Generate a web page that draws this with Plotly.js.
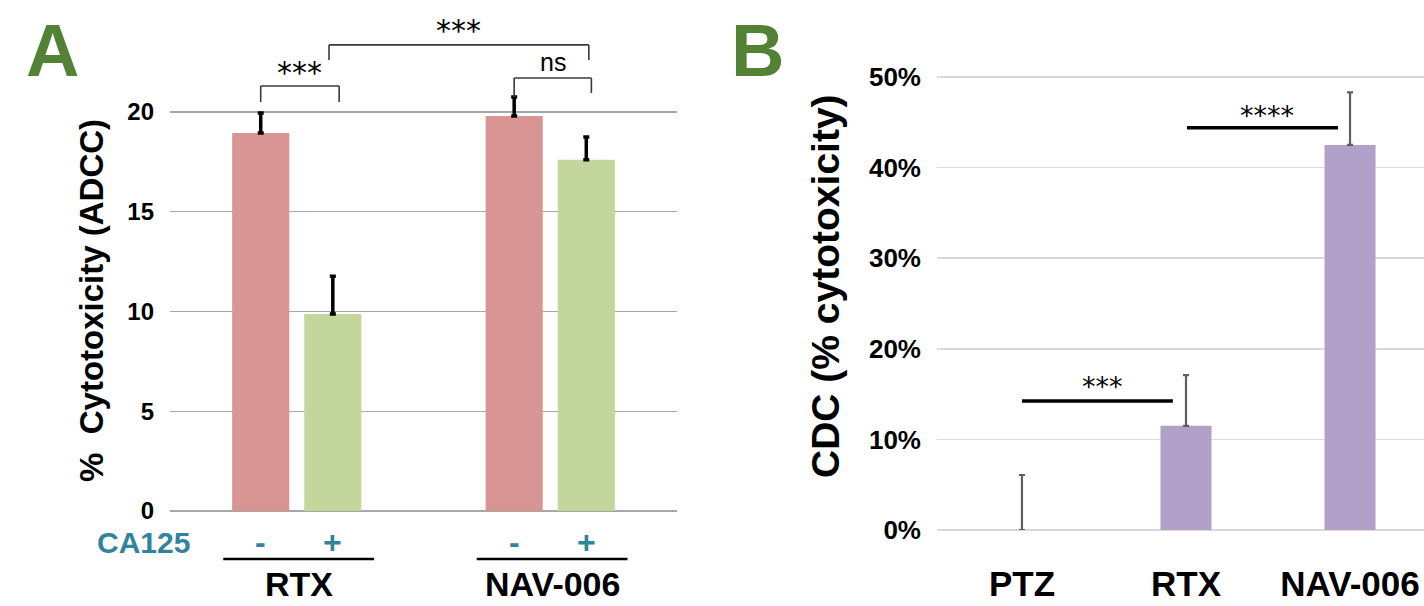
<!DOCTYPE html>
<html>
<head>
<meta charset="utf-8">
<script src="https://cdn.plot.ly/plotly-3.0.1.min.js"></script>
<style>html,body{margin:0;padding:0;background:#fff;}#chart{width:1424px;height:606px;}</style>
</head>
<body>
<div id="chart"></div>
<script>
// ---------- Panel A data (ADCC) ----------
const groupsA = ['RTX', 'NAV-006'];
const ca125Labels = ['-', '+'];
const adccMinus = [18.95, 19.8];     // CA125 -
const adccMinusErr = [1.0, 0.95];
const adccPlus = [9.87, 17.6];       // CA125 +
const adccPlusErr = [1.9, 1.15];
const yTicksA = [0, 5, 10, 15, 20];

// ---------- Panel B data (CDC) ----------
const groupsB = ['PTZ', 'RTX', 'NAV-006'];
const cdcValues = [0.0, 0.115, 0.425];
const cdcErr = [0.0607, 0.056, 0.058];
const yTicksB = [0, 0.1, 0.2, 0.3, 0.4, 0.5];

const FONT = 'Liberation Sans, Arial, sans-serif';
const STAR_FONT = 'DejaVu Sans, sans-serif';
const TEAL = '#31849B';
const GREEN = '#548235';

const traces = [
  {
    type: 'bar', x: groupsA, y: adccMinus, name: 'CA125 -',
    marker: {color: '#D99594'}, xaxis: 'x', yaxis: 'y', cliponaxis: false,
    error_y: {type: 'data', array: adccMinusErr, arrayminus: [NaN, NaN], symmetric: false,
              color: '#000', thickness: 3.5, width: 3}
  },
  {
    type: 'bar', x: groupsA, y: adccPlus, name: 'CA125 +',
    marker: {color: '#C3D69B'}, xaxis: 'x', yaxis: 'y', cliponaxis: false,
    error_y: {type: 'data', array: adccPlusErr, arrayminus: [NaN, NaN], symmetric: false,
              color: '#000', thickness: 3.5, width: 3}
  },
  {
    type: 'bar', x: groupsB, y: cdcValues, name: 'CDC',
    marker: {color: '#B1A0C7'}, xaxis: 'x2', yaxis: 'y2', width: 0.311, cliponaxis: false,
    error_y: {type: 'data', array: cdcErr, arrayminus: [NaN, NaN, NaN], symmetric: false,
              color: '#5f5f5f', thickness: 2.2, width: 3}
  }
];

const slotA = 0.2846;
const offA = [-slotA / 2, slotA / 2];

const annotations = [];
const shapes = [];

// Panel letters
annotations.push({xref: 'paper', yref: 'paper', x: 0.0372, y: 0.917, text: 'A', showarrow: false,
  font: {family: FONT, size: 74, color: GREEN, weight: 700}, xanchor: 'center', yanchor: 'middle'});
annotations.push({xref: 'paper', yref: 'paper', x: 0.5323, y: 0.917, text: 'B', showarrow: false,
  font: {family: FONT, size: 74, color: GREEN, weight: 700}, xanchor: 'center', yanchor: 'middle'});

// Y titles
annotations.push({xref: 'paper', yref: 'paper', x: 0.0646, y: 0.505, text: '%  Cytotoxicity (ADCC)', textangle: -90,
  showarrow: false, font: {family: FONT, size: 33, color: '#000', weight: 700}, xanchor: 'center', yanchor: 'middle'});
annotations.push({xref: 'paper', yref: 'paper', x: 0.5793, y: 0.528, text: 'CDC (% cytotoxicity)', textangle: -90,
  showarrow: false, font: {family: FONT, size: 39, color: '#000', weight: 700}, xanchor: 'center', yanchor: 'middle'});

// CA125 row
annotations.push({xref: 'paper', yref: 'paper', x: 0.1011, y: 0.1045, text: 'CA125', showarrow: false,
  font: {family: FONT, size: 30, color: TEAL, weight: 700}, xanchor: 'center', yanchor: 'middle'});
groupsA.forEach((g, gi) => {
  ca125Labels.forEach((s, si) => {
    annotations.push({xref: 'x', yref: 'paper', x: gi + offA[si], y: 0.1056, text: s, showarrow: false,
      font: {family: FONT, size: 32, color: TEAL, weight: 700}, xanchor: 'center', yanchor: 'middle'});
  });
  shapes.push({type: 'line', xref: 'x', yref: 'paper', x0: gi - 0.29, x1: gi + 0.305, y0: 0.0776, y1: 0.0776,
    line: {color: '#000', width: 2.5}});
  annotations.push({xref: 'x', yref: 'paper', x: gi + 0.01, y: 0.037, text: g, showarrow: false,
    font: {family: FONT, size: 34, color: '#000', weight: 700}, xanchor: 'center', yanchor: 'middle'});
});

// Significance brackets, panel A
function bracket(xa, xb, yLegA, yLegB, yTop, label, ty, font) {
  const ln = {color: '#3a3a3a', width: 1.6};
  shapes.push({type: 'line', xref: 'x', yref: 'y', x0: xa, x1: xa, y0: yLegA, y1: yTop, line: ln});
  shapes.push({type: 'line', xref: 'x', yref: 'y', x0: xa, x1: xb, y0: yTop, y1: yTop, line: ln});
  shapes.push({type: 'line', xref: 'x', yref: 'y', x0: xb, x1: xb, y0: yLegB, y1: yTop, line: ln});
  annotations.push({xref: 'x', yref: 'y', x: (xa + xb) / 2, y: ty, text: label, showarrow: false,
    font: font, xanchor: 'center', yanchor: 'middle'});
}
const starFont = {family: STAR_FONT, size: 30, color: '#000'};
bracket(0 + offA[0], 0 + offA[1] + 0.025, 20.5, 20.5, 21.3, '***', 22.0, starFont);
bracket(1 + offA[0], 1 + offA[1] + 0.02, 20.75, 20.95, 21.7, 'ns', 22.5, {family: FONT, size: 25, color: '#000'});
bracket(0 + offA[1] - 0.015, 1 + offA[1] + 0.01, 22.6, 22.6, 23.36, '***', 24.1, starFont);

// Significance lines, panel B
function sigLine(xa, xb, y, label, ty) {
  shapes.push({type: 'line', xref: 'x2', yref: 'y2', x0: xa, x1: xb, y0: y, y1: y, line: {color: '#000', width: 3.5}});
  annotations.push({xref: 'x2', yref: 'y2', x: (xa + xb) / 2 + 0.03, y: ty, text: label, showarrow: false,
    font: {family: STAR_FONT, size: 27, color: '#000'}, xanchor: 'center', yanchor: 'middle'});
}
sigLine(0, 0.92, 0.1424, '***', 0.158);
sigLine(1.006, 1.927, 0.444, '****', 0.457);

const layout = {
  width: 1424, height: 606,
  margin: {l: 0, r: 0, t: 0, b: 0},
  paper_bgcolor: '#fff', plot_bgcolor: '#fff',
  showlegend: false,
  barmode: 'group', bargap: 0.431, bargroupgap: 0.208,
  xaxis: {domain: [0.1194, 0.4754], range: [-0.5, 1.5], showticklabels: false, showgrid: false,
          zeroline: false, showline: false, ticks: '', fixedrange: true},
  yaxis: {domain: [0.15677, 1], range: [0, 25.61], tickvals: yTicksA, ticktext: yTicksA.map(String),
          showgrid: true, gridcolor: '#a6a6a6', gridwidth: 1.2, zeroline: true, zerolinecolor: '#a6a6a6',
          zerolinewidth: 1.2, showline: false, ticks: '', ticklabelstandoff: 15,
          tickfont: {family: FONT, size: 24, color: '#000', weight: 700}, anchor: 'x'},
  xaxis2: {domain: [0.658, 1], range: [-0.518, 2.451], showgrid: false, zeroline: false, showline: false,
           ticks: '', anchor: 'y2', ticklabelstandoff: 30,
           tickfont: {family: FONT, size: 35, color: '#000', weight: 700}},
  yaxis2: {domain: [0.12541, 1], range: [0, 0.585], tickvals: yTicksB, tickformat: '.0%',
           showgrid: true, gridcolor: '#d9d9d9', gridwidth: 1.5, zeroline: true, zerolinecolor: '#d9d9d9',
           zerolinewidth: 1.5, showline: false, ticks: '', ticklabelstandoff: 15, anchor: 'x2',
           tickfont: {family: FONT, size: 26, color: '#000', weight: 700}},
  annotations: annotations,
  shapes: shapes
};

Plotly.newPlot('chart', traces, layout, {staticPlot: true, displayModeBar: false});
</script>
</body>
</html>
